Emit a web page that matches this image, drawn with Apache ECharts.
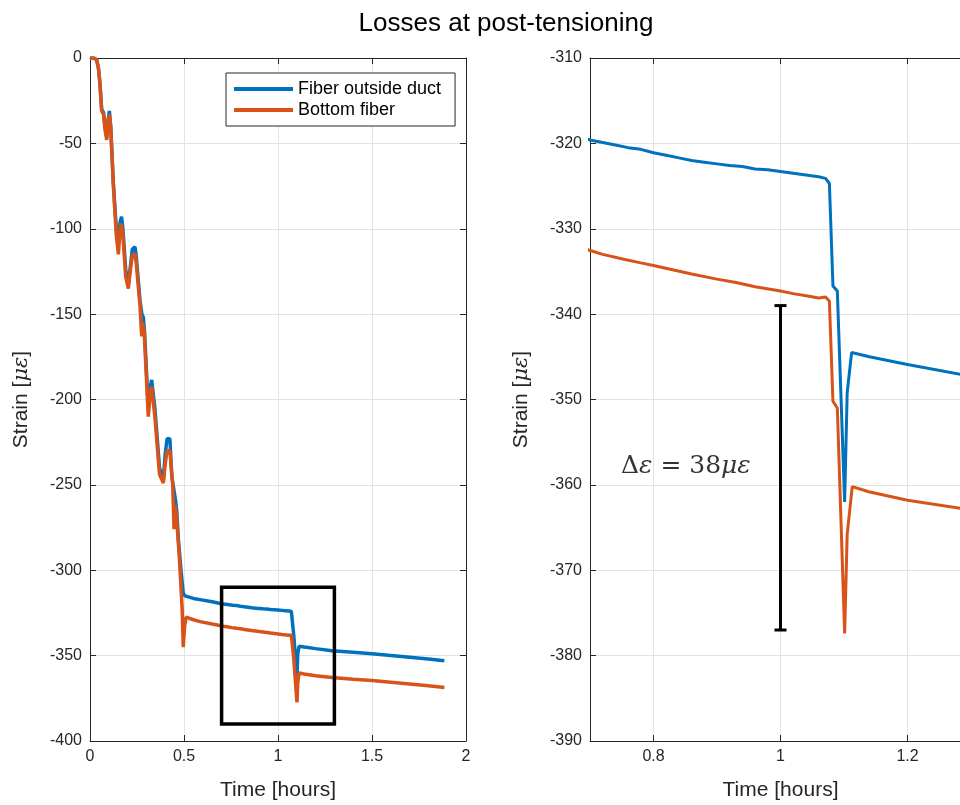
<!DOCTYPE html>
<html>
<head>
<meta charset="utf-8">
<script src="https://cdn.jsdelivr.net/npm/echarts@6/dist/echarts.min.js"></script>
<style>html,body{margin:0;padding:0;background:#fff;}#chart{width:960px;height:805px;}</style>
</head>
<body>
<div id="chart"></div>
<script>
// ---- Data ----
const titleText = 'Losses at post-tensioning';
const seriesNames = ['Fiber outside duct', 'Bottom fiber'];

const timeBlue = [0, 0.02, 0.035, 0.045, 0.053, 0.062, 0.072, 0.08, 0.089, 0.097, 0.103, 0.11, 0.124, 0.14, 0.151, 0.16, 0.168, 0.175, 0.19, 0.204, 0.215, 0.225, 0.239, 0.245, 0.266, 0.276, 0.284, 0.29, 0.31, 0.32, 0.328, 0.335, 0.345, 0.37, 0.39, 0.40, 0.41, 0.425, 0.435, 0.455, 0.462, 0.47, 0.484, 0.496, 0.505, 0.55, 0.6, 0.65, 0.7, 0.72, 0.74, 0.76, 0.78, 0.8, 0.82, 0.84, 0.86, 0.88, 0.9, 0.92, 0.94, 0.96, 0.98, 1.0, 1.02, 1.04, 1.06, 1.071, 1.077, 1.0826, 1.0895, 1.101, 1.105, 1.112, 1.14, 1.2, 1.287, 1.4, 1.5, 1.6, 1.7, 1.8, 1.885];
const strainBlue = [0, 0, -1, -6, -15, -30, -32, -40, -46, -36, -31, -40, -73, -100, -108, -96, -93, -100, -124, -132, -122, -112, -110.5, -115, -142, -150, -152, -160, -205, -193, -188.5, -189, -205, -240, -247, -232, -223, -223, -245, -259, -266, -282, -300, -313.5, -315, -316.5, -317.5, -318.5, -319.6, -319.9, -320.2, -320.5, -320.7, -321.1, -321.4, -321.7, -322.0, -322.2, -322.4, -322.6, -322.7, -323.0, -323.1, -323.3, -323.5, -323.7, -323.9, -324.1, -324.7, -336.7, -337.3, -362.0, -349.2, -344.5, -345.0, -345.9, -347.1, -348.0, -348.9, -349.9, -350.9, -352.0, -353.0];

const timeOrange = [0, 0.02, 0.035, 0.045, 0.053, 0.062, 0.072, 0.08, 0.089, 0.097, 0.103, 0.11, 0.124, 0.14, 0.151, 0.16, 0.166, 0.175, 0.19, 0.204, 0.215, 0.225, 0.239, 0.245, 0.266, 0.275, 0.28, 0.288, 0.31, 0.32, 0.328, 0.335, 0.345, 0.37, 0.39, 0.40, 0.41, 0.425, 0.44, 0.447, 0.452, 0.46, 0.475, 0.49, 0.496, 0.503, 0.511, 0.55, 0.585, 0.65, 0.703, 0.72, 0.755, 0.78, 0.8, 0.83, 0.86, 0.9, 0.93, 0.96, 1.0, 1.02, 1.045, 1.06, 1.071, 1.077, 1.0826, 1.0895, 1.101, 1.105, 1.113, 1.139, 1.2, 1.287, 1.4, 1.5, 1.6, 1.7, 1.8, 1.885];
const strainOrange = [0, 0, -1, -6, -15, -31, -33, -42, -48, -36, -33, -40, -74, -104, -115, -100, -97, -104, -128, -135, -124, -116, -114.5, -119, -145, -163, -155, -160, -210, -197, -192.5, -193, -210, -244, -249, -238, -230, -230, -250, -276, -262, -268, -292, -322, -345, -333, -327.5, -329, -330.1, -331.5, -332.6, -333.0, -333.6, -334.0, -334.3, -334.8, -335.3, -335.9, -336.3, -336.8, -337.3, -337.6, -337.9, -338.1, -338.0, -338.5, -350.2, -351.0, -377.4, -365.8, -360.2, -360.8, -361.8, -362.8, -363.8, -364.6, -365.6, -366.6, -367.7, -368.6];

// zoom box drawn on the overview plot
const boxX = [0.7, 1.3, 1.3, 0.7, 0.7];
const boxY = [-310, -310, -390, -390, -310];

// error bar on the zoomed plot
const errorBarX = 1.0;
const errorBarTop = -339;
const errorBarBottom = -377;

// annotation
const annotationX = 0.748;
const annotationY = -357.8;

// axis ranges / ticks
const leftXTicks = [0, 2, 0.5];
const leftYTicks = [-400, 0, 50];
const rightXRange = [0.7, 1.3];
const rightXTickValues = [0.8, 1.0, 1.2];
const rightYTicks = [-390, -310, 10];

// ---- Build ----
const BLUE = '#0072BD', ORANGE = '#D95319', AX = '#262626', GRID = '#e3e3e3';
const FONT = '"Liberation Sans", Arial, Helvetica, sans-serif';
const SERIF = '"DejaVu Serif", "Liberation Serif", serif';

const pairs = (xs, ys) => xs.map((x, i) => [x, ys[i]]);
const blueData = pairs(timeBlue, strainBlue);
const orangeData = pairs(timeOrange, strainOrange);
const boxData = pairs(boxX, boxY);

const axisCommon = {
  axisLine: { show: true, onZero: false, lineStyle: { color: AX, width: 1 } },
  axisTick: { show: true, inside: true, length: 6, lineStyle: { color: AX, width: 1 } },
  axisLabel: { color: AX, fontSize: 16, fontFamily: FONT },
  splitLine: { show: true, lineStyle: { color: GRID, width: 1 } },
  nameTextStyle: { color: AX, fontSize: 21, fontFamily: FONT,
    rich: { i: { fontStyle: 'italic', fontFamily: SERIF, fontSize: 21, color: AX } } }
};
function ax(extra) {
  return Object.assign({}, JSON.parse(JSON.stringify(axisCommon)), extra);
}

const chart = echarts.init(document.getElementById('chart'), null, { renderer: 'canvas' });

const option = {
  animation: false,
  backgroundColor: '#ffffff',
  title: {
    text: titleText, left: 501, top: 6, textAlign: 'center',
    textStyle: { fontSize: 26, fontWeight: 'normal', color: '#000', fontFamily: FONT }
  },
  legend: {
    data: seriesNames,
    orient: 'vertical', left: 226, top: 73,
    padding: [7, 14, 7, 8], itemGap: 3,
    itemWidth: 59, itemHeight: 4, icon: 'rect',
    backgroundColor: '#fff', borderColor: AX, borderWidth: 1, borderRadius: 0,
    textStyle: { fontSize: 18, color: '#000', fontFamily: FONT }
  },
  grid: [
    { left: 90, top: 58, width: 376, height: 683, containLabel: false, outerBoundsMode: 'none' },
    { left: 590, top: 58, width: 381, height: 683, containLabel: false, outerBoundsMode: 'none' }
  ],
  xAxis: [
    ax({ type: 'value', gridIndex: 0, position: 'bottom', min: leftXTicks[0], max: leftXTicks[1], interval: leftXTicks[2],
      name: 'Time [hours]', nameLocation: 'middle', nameGap: 39 }),
    ax({ type: 'value', gridIndex: 0, position: 'top', min: leftXTicks[0], max: leftXTicks[1], interval: leftXTicks[2],
      axisLabel: { show: false }, splitLine: { show: false } }),
    ax({ type: 'value', gridIndex: 1, position: 'bottom', min: rightXRange[0], max: rightXRange[1],
      axisTick: { show: true, inside: true, length: 6, lineStyle: { color: AX }, customValues: rightXTickValues },
      axisLabel: { color: AX, fontSize: 16, fontFamily: FONT, customValues: rightXTickValues },
      name: 'Time [hours]', nameLocation: 'middle', nameGap: 39 }),
    ax({ type: 'value', gridIndex: 1, position: 'top', min: rightXRange[0], max: rightXRange[1],
      axisTick: { show: true, inside: true, length: 6, lineStyle: { color: AX }, customValues: rightXTickValues },
      axisLabel: { show: false, customValues: rightXTickValues }, splitLine: { show: false } })
  ],
  yAxis: [
    ax({ type: 'value', gridIndex: 0, position: 'left', min: leftYTicks[0], max: leftYTicks[1], interval: leftYTicks[2],
      name: 'Strain [{i|με}]', nameLocation: 'middle', nameGap: 58 }),
    ax({ type: 'value', gridIndex: 0, position: 'right', min: leftYTicks[0], max: leftYTicks[1], interval: leftYTicks[2],
      axisLabel: { show: false }, splitLine: { show: false } }),
    ax({ type: 'value', gridIndex: 1, position: 'left', min: rightYTicks[0], max: rightYTicks[1], interval: rightYTicks[2],
      name: 'Strain [{i|με}]', nameLocation: 'middle', nameGap: 58 })
  ],
  series: [
    { name: seriesNames[0], type: 'line', xAxisIndex: 0, yAxisIndex: 0, data: blueData,
      showSymbol: false, symbol: 'none', lineStyle: { color: BLUE, width: 3.5 }, itemStyle: { color: BLUE }, z: 3 },
    { name: seriesNames[1], type: 'line', xAxisIndex: 0, yAxisIndex: 0, data: orangeData,
      showSymbol: false, symbol: 'none', lineStyle: { color: ORANGE, width: 3.5 }, itemStyle: { color: ORANGE }, z: 4 },
    { name: 'zoom box', type: 'line', xAxisIndex: 0, yAxisIndex: 0, data: boxData,
      showSymbol: false, symbol: 'none', lineStyle: { color: '#000', width: 3.5, join: 'miter', cap: 'square' }, z: 5 },
    { name: seriesNames[0], type: 'line', xAxisIndex: 2, yAxisIndex: 2, data: blueData, clip: true,
      showSymbol: false, symbol: 'none', lineStyle: { color: BLUE, width: 3 }, itemStyle: { color: BLUE }, z: 3 },
    { name: seriesNames[1], type: 'line', xAxisIndex: 2, yAxisIndex: 2, data: orangeData, clip: true,
      showSymbol: false, symbol: 'none', lineStyle: { color: ORANGE, width: 3 }, itemStyle: { color: ORANGE }, z: 4 },
    { name: 'error bar', type: 'custom', xAxisIndex: 2, yAxisIndex: 2,
      data: [[errorBarX, errorBarTop, errorBarBottom]],
      encode: { x: 0, y: [1, 2] },
      renderItem: function (params, api) {
        const x = api.value(0);
        const p1 = api.coord([x, api.value(1)]);
        const p2 = api.coord([x, api.value(2)]);
        const hw = 6;
        const st = { stroke: '#000', lineWidth: 3 };
        return { type: 'group', children: [
          { type: 'line', shape: { x1: p1[0], y1: p1[1], x2: p2[0], y2: p2[1] }, style: st },
          { type: 'line', shape: { x1: p1[0] - hw, y1: p1[1], x2: p1[0] + hw, y2: p1[1] }, style: st },
          { type: 'line', shape: { x1: p2[0] - hw, y1: p2[1], x2: p2[0] + hw, y2: p2[1] }, style: st }
        ] };
      }, z: 6 },
    { name: 'annotation', type: 'scatter', xAxisIndex: 2, yAxisIndex: 2,
      data: [[annotationX, annotationY]], symbolSize: 1, itemStyle: { color: 'rgba(0,0,0,0)' },
      label: { show: true, position: 'right', distance: 0,
        formatter: '{u|Δ}{i|ε}{u| = 38}{i|με}',
        rich: {
          u: { fontFamily: SERIF, fontSize: 25, color: '#000' },
          i: { fontFamily: SERIF, fontSize: 25, fontStyle: 'italic', color: '#000' }
        } }, z: 7 }
  ]
};
chart.setOption(option);
</script>
</body>
</html>
